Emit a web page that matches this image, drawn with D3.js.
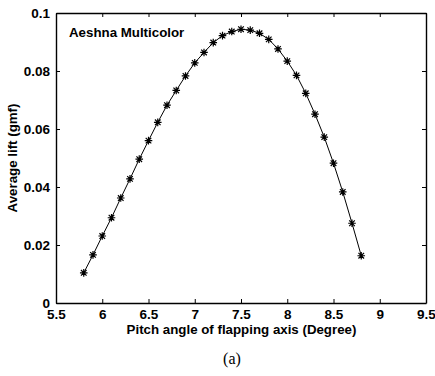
<!DOCTYPE html>
<html><head><meta charset="utf-8">
<script src="https://cdn.jsdelivr.net/npm/d3@7"></script>
<style>body{margin:0;background:#fff}svg{display:block}</style>
</head><body>
<svg id="c" width="435" height="376"></svg>
<script>
const pitch = [5.8,5.9,6.0,6.1,6.2,6.3,6.4,6.5,6.6,6.7,6.8,6.9,7.0,7.1,7.2,7.3,7.4,7.5,7.6,7.7,7.8,7.9,8.0,8.1,8.2,8.3,8.4,8.5,8.6,8.7,8.8];
const lift = [0.0104,0.0166,0.0231,0.0294,0.0362,0.0428,0.0496,0.0560,0.0623,0.0682,0.0733,0.0783,0.0828,0.0864,0.0898,0.0922,0.0936,0.0944,0.0941,0.0930,0.0909,0.0876,0.0834,0.0785,0.0723,0.0651,0.0572,0.0482,0.0383,0.0275,0.0163];
const xTicks = [5.5,6,6.5,7,7.5,8,8.5,9,9.5];
const yTicks = [0,0.02,0.04,0.06,0.08,0.1];
const xLabels = ["5.5","6","6.5","7","7.5","8","8.5","9","9.5"];
const yLabels = ["0","0.02","0.04","0.06","0.08","0.1"];

const L=56,R=426,T=13,B=303;
const svg=d3.select("#c");
const x=d3.scaleLinear().domain([5.5,9.5]).range([L,R]);
const y=d3.scaleLinear().domain([0,0.1]).range([B,T]);
const font="'Liberation Sans',Arial,sans-serif";

const tl=4;
const axB=d3.axisBottom(x).tickValues(xTicks).tickSizeInner(-tl).tickSizeOuter(0).tickPadding(8).tickFormat((d,i)=>xLabels[i]);
const gB=svg.append("g").attr("transform",`translate(0,${B})`).call(axB);
const axT=d3.axisTop(x).tickValues(xTicks).tickSizeInner(-tl).tickSizeOuter(0).tickFormat("");
const gT=svg.append("g").attr("transform",`translate(0,${T})`).call(axT);
const axL=d3.axisLeft(y).tickValues(yTicks).tickSizeInner(-tl).tickSizeOuter(0).tickPadding(6).tickFormat((d,i)=>yLabels[i]);
const gL=svg.append("g").attr("transform",`translate(${L},0)`).call(axL);
const axR=d3.axisRight(y).tickValues(yTicks).tickSizeInner(-tl).tickSizeOuter(0).tickFormat("");
const gR=svg.append("g").attr("transform",`translate(${R},0)`).call(axR);
[gB,gT,gL,gR].forEach(g=>{
  g.select(".domain").attr("stroke","#000").attr("stroke-width",1.4);
  g.selectAll(".tick line").attr("stroke","#000");
  g.selectAll("text").attr("font-family",font).attr("font-weight","bold").attr("font-size",13.5).attr("fill","#000");
});
gB.selectAll("text").attr("dy","0.6em");

svg.append("path").datum(pitch.map((p,i)=>[p,lift[i]]))
  .attr("fill","none").attr("stroke","#000").attr("stroke-width",1)
  .attr("d",d3.line().x(d=>x(d[0])).y(d=>y(d[1])));

const s=3.8, s2=2.8;
const star=`M${-s},0L${s},0M0,${-s}L0,${s}M${-s2},${-s2}L${s2},${s2}M${-s2},${s2}L${s2},${-s2}`;
svg.append("g").selectAll("path").data(pitch.map((p,i)=>[p,lift[i]])).join("path")
  .attr("transform",d=>`translate(${x(d[0])},${y(d[1])})`)
  .attr("d",star).attr("stroke","#000").attr("stroke-width",1.2).attr("fill","none");

svg.append("text").attr("x",69).attr("y",37).attr("font-family",font).attr("font-weight","bold").attr("font-size",13.3).text("Aeshna Multicolor");
svg.append("text").attr("x",(L+R)/2+0.5).attr("y",334).attr("text-anchor","middle").attr("font-family",font).attr("font-weight","bold").attr("font-size",13.3).text("Pitch angle of flapping axis (Degree)");
svg.append("text").attr("transform",`translate(17,${(T+B)/2}) rotate(-90)`).attr("text-anchor","middle").attr("font-family",font).attr("font-weight","bold").attr("font-size",13.3).text("Average lift (gmf)");
svg.append("text").attr("x",232).attr("y",364).attr("text-anchor","middle").attr("font-family","'Liberation Serif','Times New Roman',serif").attr("font-size",16).text("(a)");
</script>
</body></html>
